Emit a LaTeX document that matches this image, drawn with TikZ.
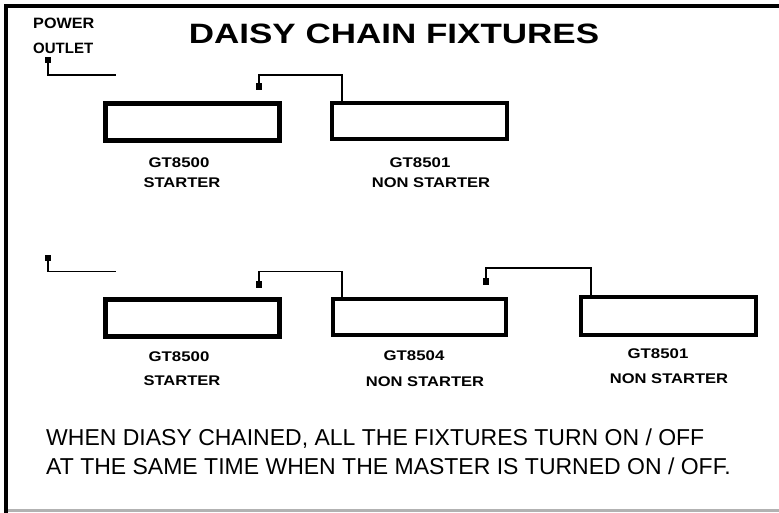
\documentclass[tikz,border=0pt]{standalone}
\usepackage{fontspec}
\setmainfont{Liberation Sans}
\tikzset{
  fixture/.style={draw=black, line width=4.5pt, rectangle, inner sep=0pt, minimum width=174pt, minimum height=37pt},
  plugdot/.style={fill=black, rectangle, inner sep=0pt, minimum width=5.5pt, minimum height=6.5pt},
  wire/.style={draw=black, line width=1.5pt},
  lbl/.style={anchor=base, inner sep=0pt, font=\fontsize{14}{14}\selectfont\bfseries},
  note/.style={anchor=base west, inner sep=0pt, font=\fontsize{23}{23}\selectfont},
}
\newcommand{\sx}[2]{\scalebox{#1}[1]{#2}}
\begin{document}
\begin{tikzpicture}[x=1pt, y=-1pt]
\useasboundingbox (0,0) rectangle (779,512);
% frame
\draw[line width=4pt, line cap=rect] (779,6) -- (6,6) -- (6,512);
\draw[line width=3pt, color=black!30] (8,510.5) -- (779,510.5);
% title
\node[anchor=base, inner sep=0pt, font=\fontsize{28}{28}\selectfont\bfseries] (title) at (394,43) {\sx{1.25}{DAISY CHAIN FIXTURES}};
% power outlet label
\node[anchor=base west, inner sep=0pt, font=\fontsize{15}{15}\selectfont\bfseries] (pw) at (33,28) {\sx{1.08}{POWER}};
\node[anchor=base west, inner sep=0pt, font=\fontsize{15}{15}\selectfont\bfseries] (ou) at (33,53) {\sx{1.0}{OUTLET}};
% ---- row 1 ----
\node[fixture, line width=5pt] (a1) at (192,122) {};
\node[fixture, line width=4pt, minimum width=175pt, minimum height=36pt] (a2) at (419.5,121) {};
\node[plugdot] (p1) at (48,60) {};
\node[plugdot, minimum width=6pt, minimum height=7pt] (p2) at (259,86) {};
\coordinate (e1) at (116,75);
\coordinate (j1) at (342,75);
\draw[wire] (p1.center) |- (e1);
\draw[wire] (p2.center) |- (j1) -- (j1 |- a2.north);
\node[lbl] (a1t) at (179,167) {\sx{1.2}{GT8500}};
\node[lbl] (a1s) at (182,187) {\sx{1.18}{STARTER}};
\node[lbl] (a2t) at (420,167) {\sx{1.2}{GT8501}};
\node[lbl] (a2s) at (431,187) {\sx{1.18}{NON STARTER}};
% ---- row 2 ----
\node[fixture, line width=5pt] (b1) at (192.5,318) {};
\node[fixture, line width=4pt, minimum width=173pt, minimum height=36pt] (b2) at (419.5,317) {};
\node[fixture, line width=4.5pt, minimum width=175pt, minimum height=38pt] (b3) at (668.5,316) {};
\node[plugdot] (q1) at (48,258) {};
\node[plugdot, minimum width=6pt, minimum height=7pt] (q2) at (259,284) {};
\node[plugdot, minimum width=6pt, minimum height=7pt] (q3) at (486,281) {};
\coordinate (e2) at (116,271.5);
\coordinate (j2) at (342,271.5);
\coordinate (j3) at (591,268);
\draw[wire] (q1.center) |- (e2);
\draw[wire] (q2.center) |- (j2) -- (j2 |- b2.north);
\draw[wire, line width=1.2pt] (q3.center) |- (j3) -- (j3 |- b3.north);
\node[lbl] (b1t) at (179,361) {\sx{1.2}{GT8500}};
\node[lbl] (b1s) at (182,385) {\sx{1.18}{STARTER}};
\node[lbl] (b2t) at (414,360) {\sx{1.2}{GT8504}};
\node[lbl] (b2s) at (425,386) {\sx{1.18}{NON STARTER}};
\node[lbl] (b3t) at (658,358) {\sx{1.2}{GT8501}};
\node[lbl] (b3s) at (669,383) {\sx{1.18}{NON STARTER}};
% note
\node[note] (n1) at (46,445) {WHEN DIASY CHAINED, ALL THE FIXTURES TURN ON / OFF};
\node[note] (n2) at (46,474) {AT THE SAME TIME WHEN THE MASTER IS TURNED ON / OFF.};
\end{tikzpicture}
\end{document}
